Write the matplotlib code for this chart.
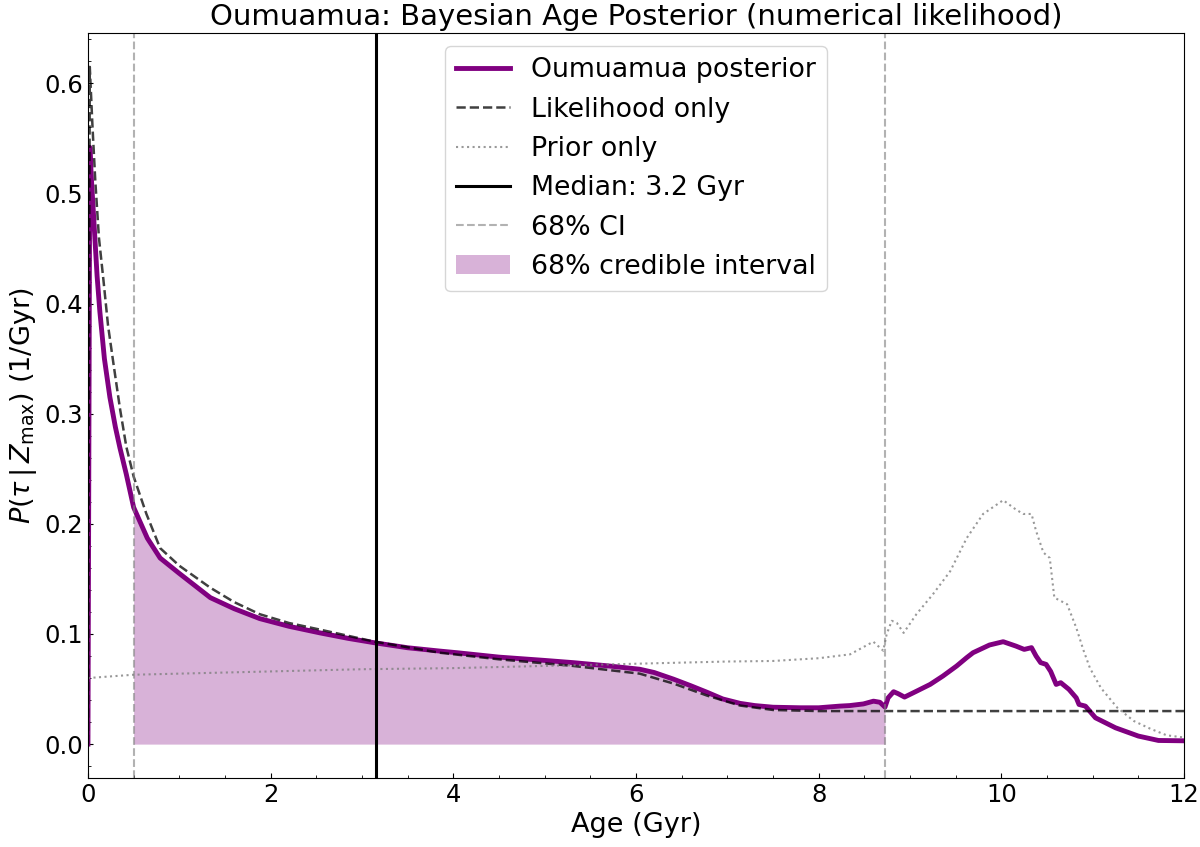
import numpy as np
import matplotlib.pyplot as plt

# posterior (purple)
post_age = [0.0, 0.02, 0.04, 0.06, 0.1, 0.13, 0.18, 0.24, 0.3, 0.35, 0.42, 0.5,
            0.65, 0.79, 1.0, 1.34, 1.6, 1.88, 2.2, 2.54, 2.85, 3.14, 3.5, 3.85,
            4.04, 4.5, 5.0, 5.31, 5.7, 6.04, 6.2, 6.41, 6.6, 6.78, 6.95, 7.14,
            7.3, 7.5, 7.8, 8.0, 8.23, 8.34, 8.49, 8.6, 8.67, 8.726, 8.76, 8.82,
            8.87, 8.94, 9.07, 9.22, 9.36, 9.51, 9.62, 9.69, 9.87, 10.02, 10.16,
            10.25, 10.33, 10.38, 10.43, 10.49, 10.54, 10.6, 10.65, 10.74, 10.82,
            10.85, 10.92, 11.03, 11.25, 11.5, 11.72, 12.0]
post_val = [0.0, 0.542, 0.51, 0.482, 0.425, 0.393, 0.35, 0.315, 0.288, 0.269,
            0.245, 0.215, 0.187, 0.169, 0.155, 0.133, 0.123, 0.114, 0.107,
            0.101, 0.096, 0.092, 0.0875, 0.0845, 0.083, 0.079, 0.076, 0.074,
            0.071, 0.068, 0.065, 0.059, 0.053, 0.047, 0.041, 0.037, 0.035,
            0.0335, 0.033, 0.033, 0.0345, 0.035, 0.0365, 0.039, 0.038, 0.0336,
            0.042, 0.0476, 0.0458, 0.0427, 0.048, 0.0542, 0.0618, 0.0709,
            0.0785, 0.083, 0.09, 0.093, 0.089, 0.086, 0.0876, 0.080, 0.074,
            0.0724, 0.066, 0.0542, 0.0558, 0.0497, 0.042, 0.036, 0.0345,
            0.0239, 0.0148, 0.0073, 0.0033, 0.003]

# likelihood only (dashed)
like_age = [0.0, 0.02, 0.05, 0.08, 0.12, 0.17, 0.22, 0.28, 0.35, 0.42, 0.5,
            0.64, 0.79, 1.0, 1.34, 1.6, 1.88, 2.2, 2.54, 3.14, 3.85, 4.5, 5.31,
            6.04, 6.41, 6.78, 7.14, 7.5, 8.0, 12.0]
like_val = [0.0, 0.615, 0.56, 0.512, 0.46, 0.421, 0.38, 0.345, 0.305, 0.27,
            0.243, 0.209, 0.178, 0.162, 0.142, 0.129, 0.118, 0.110, 0.104,
            0.093, 0.083, 0.077, 0.071, 0.064, 0.055, 0.044, 0.035, 0.031,
            0.030, 0.030]

# prior only (dotted)
prior_age = [0.0, 0.5, 1.0, 2.0, 3.0, 4.0, 5.0, 6.0, 7.0, 7.5, 8.0, 8.343,
             8.598, 8.707, 8.744, 8.8, 8.856, 8.93, 9.07, 9.25, 9.44, 9.62,
             9.8, 10.02, 10.16, 10.24, 10.33, 10.38, 10.46, 10.53, 10.58, 10.72,
             10.82, 10.9, 10.97, 11.09, 11.27, 11.45, 11.63, 11.81, 12.0]
prior_val = [0.060, 0.063, 0.064, 0.066, 0.068, 0.069, 0.071, 0.073, 0.075,
             0.0755, 0.078, 0.0815, 0.093, 0.0848, 0.0997, 0.112, 0.110, 0.101,
             0.118, 0.136, 0.157, 0.187, 0.209, 0.2215, 0.213, 0.209, 0.209,
             0.1936, 0.174, 0.169, 0.133, 0.127, 0.1057, 0.085, 0.069, 0.051,
             0.033, 0.021, 0.014, 0.008, 0.006]

median_age = 3.15
ci_lo, ci_hi = 0.5, 8.726

plt.rcParams["font.size"] = 17.5

fig = plt.figure(figsize=(12, 8.47), dpi=100)
ax = fig.add_axes([0.0733, 0.0815, 0.9134, 0.8795])

pa = np.array(post_age)
pv = np.array(post_val)
ax.plot(pa, pv, color="purple", lw=3.5, label="Oumuamua posterior")
ax.plot(like_age, like_val, "k--", lw=1.8, alpha=0.75, label="Likelihood only")
ax.plot(prior_age, prior_val, ":", color="gray", lw=1.5, alpha=0.8,
        label="Prior only")
ax.axvline(median_age, color="k", lw=2.2, label="Median: 3.2 Gyr")
ax.axvline(ci_lo, color="gray", ls="--", lw=1.5, alpha=0.6, label="68% CI")
ax.axvline(ci_hi, color="gray", ls="--", lw=1.5, alpha=0.6)
mask = (pa >= ci_lo) & (pa <= ci_hi)
ax.fill_between(pa[mask], 0, pv[mask], color="purple", alpha=0.3, lw=0,
                label="68% credible interval")

ax.set_xlim(0, 12)
ax.set_xlabel("Age (Gyr)", fontsize=19.5)
ax.set_ylabel(r"$P(\tau\,|\,Z_{\rm max})$ (1/Gyr)", fontsize=19.5)
ax.set_title("Oumuamua: Bayesian Age Posterior (numerical likelihood)",
             fontsize=21)
ax.minorticks_on()
ax.tick_params(which="both", direction="in")
ax.legend(loc="upper center", fontsize=19.3)

plt.savefig("out.png", dpi=100)
